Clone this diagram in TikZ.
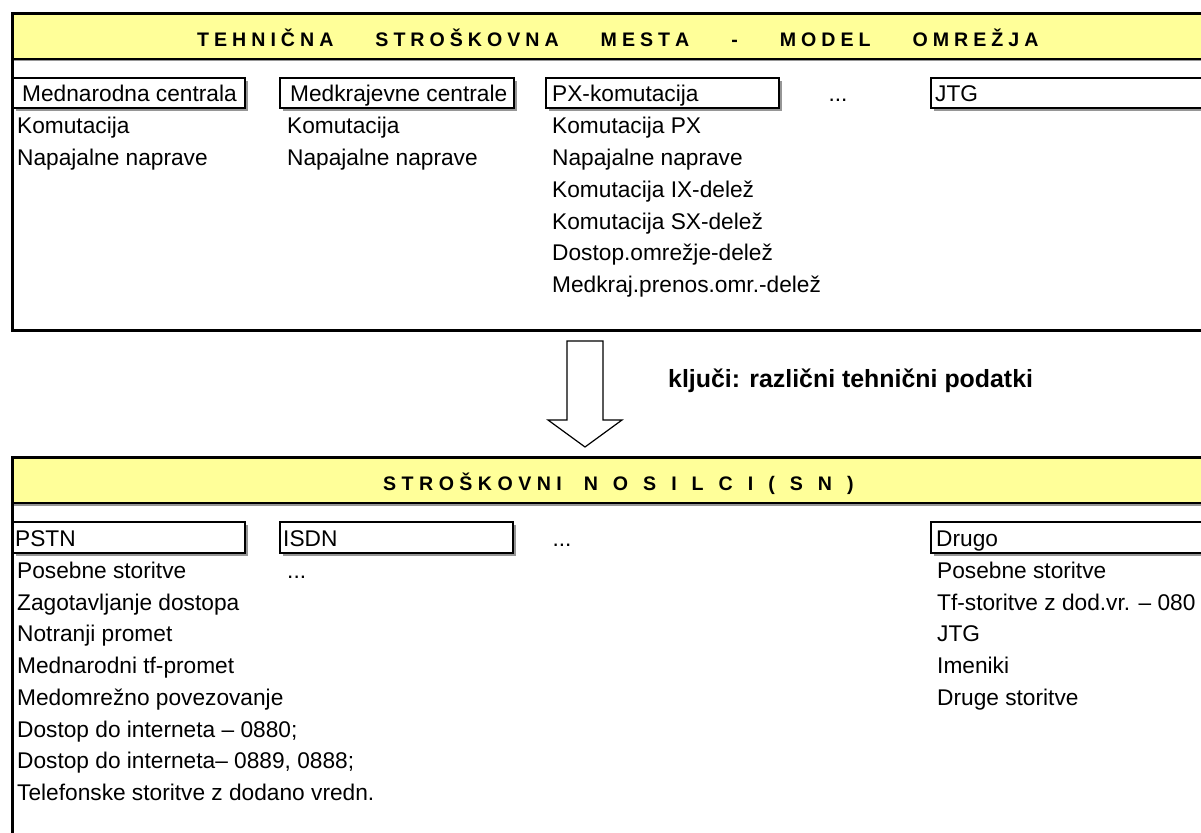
\documentclass[tikz,border=0pt]{standalone}
\usepackage{fontspec}
\setmainfont{Liberation Sans}
\usetikzlibrary{shadows}
\definecolor{hdryellow}{RGB}{255,255,153}
\definecolor{shadowgray}{RGB}{150,150,150}
% letter-spaced headings: every glyph followed by a fixed kern
\newdimen\letgap \letgap=5pt
\def\spaced#1{\ifx#1\relax\else#1\kern\letgap\expandafter\spaced\fi}
\newcommand\gapword[2]{\letgap=#1\relax\spaced#2\relax}
\newcommand\wordgap{\kern37pt}
\newcommand\bodyfont{\fontsize{22.7pt}{27pt}\selectfont}
\newcommand\headfont{\fontsize{19.6pt}{23pt}\selectfont\bfseries}
\newcommand\keyfont{\fontsize{24.9pt}{29pt}\selectfont\bfseries}
\begin{document}
\begin{tikzpicture}[x=1pt,y=-1pt,
  frameline/.style={draw=black, line width=3pt, anchor=north west, inner sep=0pt, outer sep=0pt},
  hdrband/.style={draw=black, line width=1.2pt, fill=hdryellow, anchor=north west, inner sep=0pt, outer sep=0pt,
    drop shadow={shadow xshift=0pt, shadow yshift=-2.5pt, fill=shadowgray, opacity=1}},
  subbox/.style={draw=black, line width=2.2pt, fill=white, anchor=north west, inner sep=0pt, outer sep=0pt,
    drop shadow={shadow xshift=3pt, shadow yshift=-3pt, fill=shadowgray, opacity=1}},
  txt/.style={anchor=base west, inner sep=0pt, font=\bodyfont},
  hword/.style={anchor=base west, inner sep=0pt, font=\headfont},
  blockarrow/.style={draw=black, line width=1.2pt, fill=white, line join=miter}]
\useasboundingbox (0,0) rectangle (1201,832);
\clip (0,0) rectangle (1201,832);

% ---------- upper panel: technical cost centres ----------
\node[hdrband, minimum width=1230pt, minimum height=45pt] (tophdr) at (12.5,14) {};
\node[frameline, minimum width=1230pt, minimum height=316pt] (topframe) at (12.5,14) {};
\node[hword] (tophdrtext) at (197,46.7)
  {\gapword{5pt}{TEHNIČNA}\wordgap\gapword{5pt}{STROŠKOVNA}\wordgap\gapword{5pt}{MESTA}%
   \wordgap\gapword{5pt}{-}\wordgap\gapword{5pt}{MODEL}\wordgap\gapword{5pt}{OMREŽJA}};

\node[subbox, minimum width=232pt, minimum height=30.5pt] (mc) at (13,77.7) {};
\node[subbox, minimum width=234pt, minimum height=30.5pt] (mk) at (280,77.7) {};
\node[subbox, minimum width=233pt, minimum height=30.5pt] (px) at (546,77.7) {};
\node[subbox, minimum width=300pt, minimum height=30.5pt] (jtg) at (931,77.7) {};
\node[txt] (mct) at (22,101.7) {Mednarodna centrala};
\node[txt] (mkt) at (290,101.7) {Medkrajevne centrale};
\node[txt] (pxt) at (552,101.7) {PX-komutacija};
\node[txt] (jtgt) at (935,101.7) {JTG};
\node[anchor=base, inner sep=0pt, font=\bodyfont] (topdots) at (838,101.7) {...};

\foreach \t [count=\i] in {Komutacija, Napajalne naprave}
  \node[txt] (mc-\i) at (17,{134+(\i-1)*31.7}) {\t};
\foreach \t [count=\i] in {Komutacija, Napajalne naprave}
  \node[txt] (mk-\i) at (287,{134+(\i-1)*31.7}) {\t};
\foreach \t [count=\i] in {Komutacija PX, Napajalne naprave, Komutacija IX-delež,
    Komutacija SX-delež, Dostop.omrežje-delež, Medkraj.prenos.omr.-delež}
  \node[txt] (px-\i) at (552,{134+(\i-1)*31.7}) {\t};

% ---------- allocation arrow ----------
\coordinate (arrtop) at (585,341);
\draw[blockarrow] ([shift={(-18,0)}]arrtop) -- ([shift={(18,0)}]arrtop)
  -- ([shift={(18,79)}]arrtop) -- ([shift={(37,79)}]arrtop)
  -- ([shift={(0,106)}]arrtop) -- ([shift={(-37,79)}]arrtop)
  -- ([shift={(-18,79)}]arrtop) -- cycle;
\node[anchor=base west, inner sep=0pt, font=\keyfont] (keys) at (668,387)
  {ključi: različni tehnični podatki};

% ---------- lower panel: cost carriers ----------
\node[hdrband, minimum width=1230pt, minimum height=46pt] (bothdr) at (12.5,457) {};
\node[frameline, minimum width=1230pt, minimum height=500pt] (botframe) at (12.5,457) {};
\node[hword] (bothdrtext) at (383,490.7)
  {\gapword{5.45pt}{STROŠKOVNI}\kern16.5pt\gapword{15pt}{NOSILCI(SN)}};

\node[subbox, minimum width=232pt, minimum height=31pt] (pstn) at (13,521.7) {};
\node[subbox, minimum width=233pt, minimum height=31pt] (isdn) at (280,521.7) {};
\node[subbox, minimum width=300pt, minimum height=31pt] (drugo) at (931,521.7) {};
\node[txt] (pstnt) at (15,546.7) {PSTN};
\node[txt] (isdnt) at (283,546.7) {ISDN};
\node[txt] (drugot) at (936,546.7) {Drugo};
\node[anchor=base, inner sep=0pt, font=\bodyfont] (botdots) at (562,546.7) {...};

\foreach \t [count=\i] in {Posebne storitve, Zagotavljanje dostopa, Notranji promet,
    Mednarodni tf-promet, Medomrežno povezovanje, {Dostop do interneta – 0880;},
    {Dostop do interneta– 0889, 0888;}, Telefonske storitve z dodano vredn.}
  \node[txt] (pstn-\i) at (17,{578.5+(\i-1)*31.7}) {\t};
\node[txt] (isdn-1) at (287,578.5) {...};
\foreach \t [count=\i] in {Posebne storitve, Tf-storitve z dod.vr. – 080, JTG,
    Imeniki, Druge storitve}
  \node[txt] (drugo-\i) at (937,{578.5+(\i-1)*31.7}) {\t};
\end{tikzpicture}
\end{document}
